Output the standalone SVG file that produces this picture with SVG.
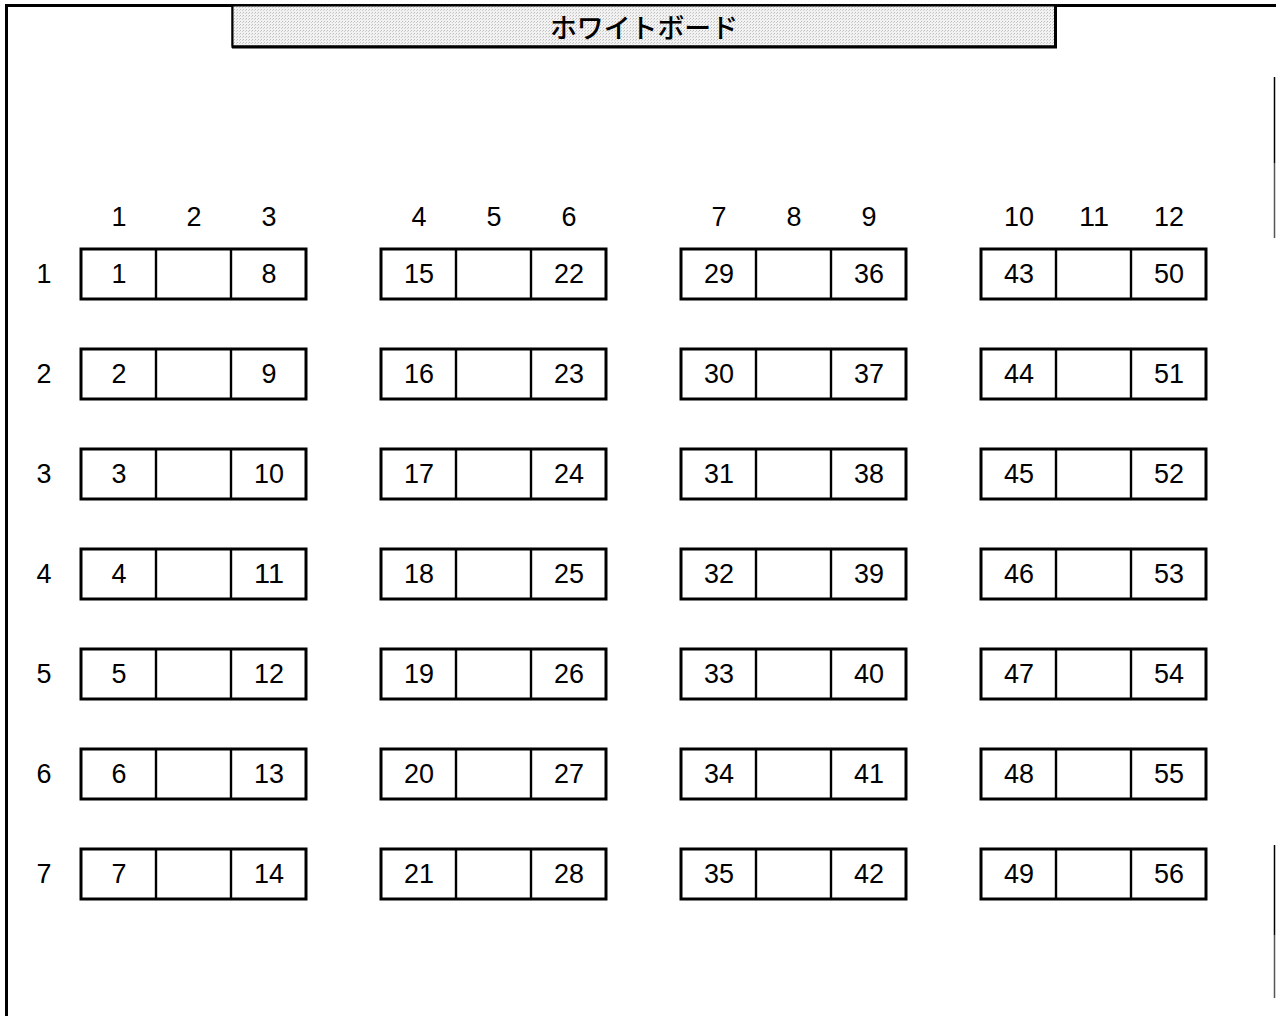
<svg xmlns="http://www.w3.org/2000/svg" width="1276" height="1016" viewBox="0 0 1276 1016">
<style>
.frame{stroke:#000;stroke-width:3;fill:none}
.desk{fill:#fff;stroke:#000;stroke-width:3}
.div{stroke:#000;stroke-width:2.4}
.t{font-family:"Liberation Sans","Noto Sans CJK JP",sans-serif;font-size:27px;fill:#000;text-anchor:middle;dominant-baseline:central}
.wb{font-family:"Noto Sans CJK JP",sans-serif;font-size:27px;font-weight:500;fill:#000;text-anchor:middle;dominant-baseline:central}
</style>
<defs>
<pattern id="dots" width="3" height="3" patternUnits="userSpaceOnUse">
<rect width="3" height="3" fill="#f2f2f2"/>
<rect width="1" height="1" fill="#bdbdbd"/>
<rect x="2" y="1" width="1" height="1" fill="#cfcfcf"/>
</pattern>
<g id="deskshape">
<rect class="desk" x="0" y="0" width="225" height="50"/>
<line class="div" x1="75" y1="0" x2="75" y2="50"/>
<line class="div" x1="150" y1="0" x2="150" y2="50"/>
</g>
</defs>
<rect width="1276" height="1016" fill="#fff"/>
<g id="room">
<line class="frame" x1="6" y1="5.5" x2="1276" y2="5.5"/>
<line class="frame" x1="6.5" y1="4" x2="6.5" y2="1016"/>
<line x1="1274.5" y1="77" x2="1274.5" y2="163" stroke="#000" stroke-width="1.5"/>
<line x1="1274.5" y1="163" x2="1274.5" y2="238" stroke="#555" stroke-width="1.5"/>
<line x1="1274.5" y1="845" x2="1274.5" y2="935" stroke="#000" stroke-width="1.5"/>
<line x1="1274.5" y1="935" x2="1274.5" y2="998" stroke="#555" stroke-width="1.5"/>
</g>
<g id="whiteboard">
<rect x="232" y="6" width="823" height="40" fill="url(#dots)" stroke="#000" stroke-width="1"/>
<line x1="232" y1="47" x2="1057" y2="47" stroke="#000" stroke-width="3"/>
<line x1="1055.5" y1="6" x2="1055.5" y2="48" stroke="#000" stroke-width="3"/>
<line x1="232.5" y1="6" x2="232.5" y2="48" stroke="#000" stroke-width="2"/>
<text class="wb" x="644" y="26" textLength="188" lengthAdjust="spacingAndGlyphs">ホワイトボード</text>
</g>
<g id="col-labels">
<text class="t" x="119" y="217" textLength="15" lengthAdjust="spacingAndGlyphs">1</text><text class="t" x="194" y="217" textLength="15" lengthAdjust="spacingAndGlyphs">2</text><text class="t" x="269" y="217" textLength="15" lengthAdjust="spacingAndGlyphs">3</text>
<text class="t" x="419" y="217" textLength="15" lengthAdjust="spacingAndGlyphs">4</text><text class="t" x="494" y="217" textLength="15" lengthAdjust="spacingAndGlyphs">5</text><text class="t" x="569" y="217" textLength="15" lengthAdjust="spacingAndGlyphs">6</text>
<text class="t" x="719" y="217" textLength="15" lengthAdjust="spacingAndGlyphs">7</text><text class="t" x="794" y="217" textLength="15" lengthAdjust="spacingAndGlyphs">8</text><text class="t" x="869" y="217" textLength="15" lengthAdjust="spacingAndGlyphs">9</text>
<text class="t" x="1019" y="217" textLength="30" lengthAdjust="spacingAndGlyphs">10</text><text class="t" x="1094" y="217" textLength="30" lengthAdjust="spacingAndGlyphs">11</text><text class="t" x="1169" y="217" textLength="30" lengthAdjust="spacingAndGlyphs">12</text>
</g>
<g id="row-labels">
<text class="t" x="44" y="274" textLength="15" lengthAdjust="spacingAndGlyphs">1</text><text class="t" x="44" y="374" textLength="15" lengthAdjust="spacingAndGlyphs">2</text><text class="t" x="44" y="474" textLength="15" lengthAdjust="spacingAndGlyphs">3</text>
<text class="t" x="44" y="574" textLength="15" lengthAdjust="spacingAndGlyphs">4</text><text class="t" x="44" y="674" textLength="15" lengthAdjust="spacingAndGlyphs">5</text><text class="t" x="44" y="774" textLength="15" lengthAdjust="spacingAndGlyphs">6</text>
<text class="t" x="44" y="874" textLength="15" lengthAdjust="spacingAndGlyphs">7</text>
</g>
<g id="desks">
<g id="r1">
<use href="#deskshape" x="81" y="249"/><use href="#deskshape" x="381" y="249"/><use href="#deskshape" x="681" y="249"/><use href="#deskshape" x="981" y="249"/>
<text class="t" x="119" y="274" textLength="15" lengthAdjust="spacingAndGlyphs">1</text><text class="t" x="269" y="274" textLength="15" lengthAdjust="spacingAndGlyphs">8</text>
<text class="t" x="419" y="274" textLength="30" lengthAdjust="spacingAndGlyphs">15</text><text class="t" x="569" y="274" textLength="30" lengthAdjust="spacingAndGlyphs">22</text>
<text class="t" x="719" y="274" textLength="30" lengthAdjust="spacingAndGlyphs">29</text><text class="t" x="869" y="274" textLength="30" lengthAdjust="spacingAndGlyphs">36</text>
<text class="t" x="1019" y="274" textLength="30" lengthAdjust="spacingAndGlyphs">43</text><text class="t" x="1169" y="274" textLength="30" lengthAdjust="spacingAndGlyphs">50</text>
</g>
<g id="r2">
<use href="#deskshape" x="81" y="349"/><use href="#deskshape" x="381" y="349"/><use href="#deskshape" x="681" y="349"/><use href="#deskshape" x="981" y="349"/>
<text class="t" x="119" y="374" textLength="15" lengthAdjust="spacingAndGlyphs">2</text><text class="t" x="269" y="374" textLength="15" lengthAdjust="spacingAndGlyphs">9</text>
<text class="t" x="419" y="374" textLength="30" lengthAdjust="spacingAndGlyphs">16</text><text class="t" x="569" y="374" textLength="30" lengthAdjust="spacingAndGlyphs">23</text>
<text class="t" x="719" y="374" textLength="30" lengthAdjust="spacingAndGlyphs">30</text><text class="t" x="869" y="374" textLength="30" lengthAdjust="spacingAndGlyphs">37</text>
<text class="t" x="1019" y="374" textLength="30" lengthAdjust="spacingAndGlyphs">44</text><text class="t" x="1169" y="374" textLength="30" lengthAdjust="spacingAndGlyphs">51</text>
</g>
<g id="r3">
<use href="#deskshape" x="81" y="449"/><use href="#deskshape" x="381" y="449"/><use href="#deskshape" x="681" y="449"/><use href="#deskshape" x="981" y="449"/>
<text class="t" x="119" y="474" textLength="15" lengthAdjust="spacingAndGlyphs">3</text><text class="t" x="269" y="474" textLength="30" lengthAdjust="spacingAndGlyphs">10</text>
<text class="t" x="419" y="474" textLength="30" lengthAdjust="spacingAndGlyphs">17</text><text class="t" x="569" y="474" textLength="30" lengthAdjust="spacingAndGlyphs">24</text>
<text class="t" x="719" y="474" textLength="30" lengthAdjust="spacingAndGlyphs">31</text><text class="t" x="869" y="474" textLength="30" lengthAdjust="spacingAndGlyphs">38</text>
<text class="t" x="1019" y="474" textLength="30" lengthAdjust="spacingAndGlyphs">45</text><text class="t" x="1169" y="474" textLength="30" lengthAdjust="spacingAndGlyphs">52</text>
</g>
<g id="r4">
<use href="#deskshape" x="81" y="549"/><use href="#deskshape" x="381" y="549"/><use href="#deskshape" x="681" y="549"/><use href="#deskshape" x="981" y="549"/>
<text class="t" x="119" y="574" textLength="15" lengthAdjust="spacingAndGlyphs">4</text><text class="t" x="269" y="574" textLength="30" lengthAdjust="spacingAndGlyphs">11</text>
<text class="t" x="419" y="574" textLength="30" lengthAdjust="spacingAndGlyphs">18</text><text class="t" x="569" y="574" textLength="30" lengthAdjust="spacingAndGlyphs">25</text>
<text class="t" x="719" y="574" textLength="30" lengthAdjust="spacingAndGlyphs">32</text><text class="t" x="869" y="574" textLength="30" lengthAdjust="spacingAndGlyphs">39</text>
<text class="t" x="1019" y="574" textLength="30" lengthAdjust="spacingAndGlyphs">46</text><text class="t" x="1169" y="574" textLength="30" lengthAdjust="spacingAndGlyphs">53</text>
</g>
<g id="r5">
<use href="#deskshape" x="81" y="649"/><use href="#deskshape" x="381" y="649"/><use href="#deskshape" x="681" y="649"/><use href="#deskshape" x="981" y="649"/>
<text class="t" x="119" y="674" textLength="15" lengthAdjust="spacingAndGlyphs">5</text><text class="t" x="269" y="674" textLength="30" lengthAdjust="spacingAndGlyphs">12</text>
<text class="t" x="419" y="674" textLength="30" lengthAdjust="spacingAndGlyphs">19</text><text class="t" x="569" y="674" textLength="30" lengthAdjust="spacingAndGlyphs">26</text>
<text class="t" x="719" y="674" textLength="30" lengthAdjust="spacingAndGlyphs">33</text><text class="t" x="869" y="674" textLength="30" lengthAdjust="spacingAndGlyphs">40</text>
<text class="t" x="1019" y="674" textLength="30" lengthAdjust="spacingAndGlyphs">47</text><text class="t" x="1169" y="674" textLength="30" lengthAdjust="spacingAndGlyphs">54</text>
</g>
<g id="r6">
<use href="#deskshape" x="81" y="749"/><use href="#deskshape" x="381" y="749"/><use href="#deskshape" x="681" y="749"/><use href="#deskshape" x="981" y="749"/>
<text class="t" x="119" y="774" textLength="15" lengthAdjust="spacingAndGlyphs">6</text><text class="t" x="269" y="774" textLength="30" lengthAdjust="spacingAndGlyphs">13</text>
<text class="t" x="419" y="774" textLength="30" lengthAdjust="spacingAndGlyphs">20</text><text class="t" x="569" y="774" textLength="30" lengthAdjust="spacingAndGlyphs">27</text>
<text class="t" x="719" y="774" textLength="30" lengthAdjust="spacingAndGlyphs">34</text><text class="t" x="869" y="774" textLength="30" lengthAdjust="spacingAndGlyphs">41</text>
<text class="t" x="1019" y="774" textLength="30" lengthAdjust="spacingAndGlyphs">48</text><text class="t" x="1169" y="774" textLength="30" lengthAdjust="spacingAndGlyphs">55</text>
</g>
<g id="r7">
<use href="#deskshape" x="81" y="849"/><use href="#deskshape" x="381" y="849"/><use href="#deskshape" x="681" y="849"/><use href="#deskshape" x="981" y="849"/>
<text class="t" x="119" y="874" textLength="15" lengthAdjust="spacingAndGlyphs">7</text><text class="t" x="269" y="874" textLength="30" lengthAdjust="spacingAndGlyphs">14</text>
<text class="t" x="419" y="874" textLength="30" lengthAdjust="spacingAndGlyphs">21</text><text class="t" x="569" y="874" textLength="30" lengthAdjust="spacingAndGlyphs">28</text>
<text class="t" x="719" y="874" textLength="30" lengthAdjust="spacingAndGlyphs">35</text><text class="t" x="869" y="874" textLength="30" lengthAdjust="spacingAndGlyphs">42</text>
<text class="t" x="1019" y="874" textLength="30" lengthAdjust="spacingAndGlyphs">49</text><text class="t" x="1169" y="874" textLength="30" lengthAdjust="spacingAndGlyphs">56</text>
</g>
</g>
</svg>
